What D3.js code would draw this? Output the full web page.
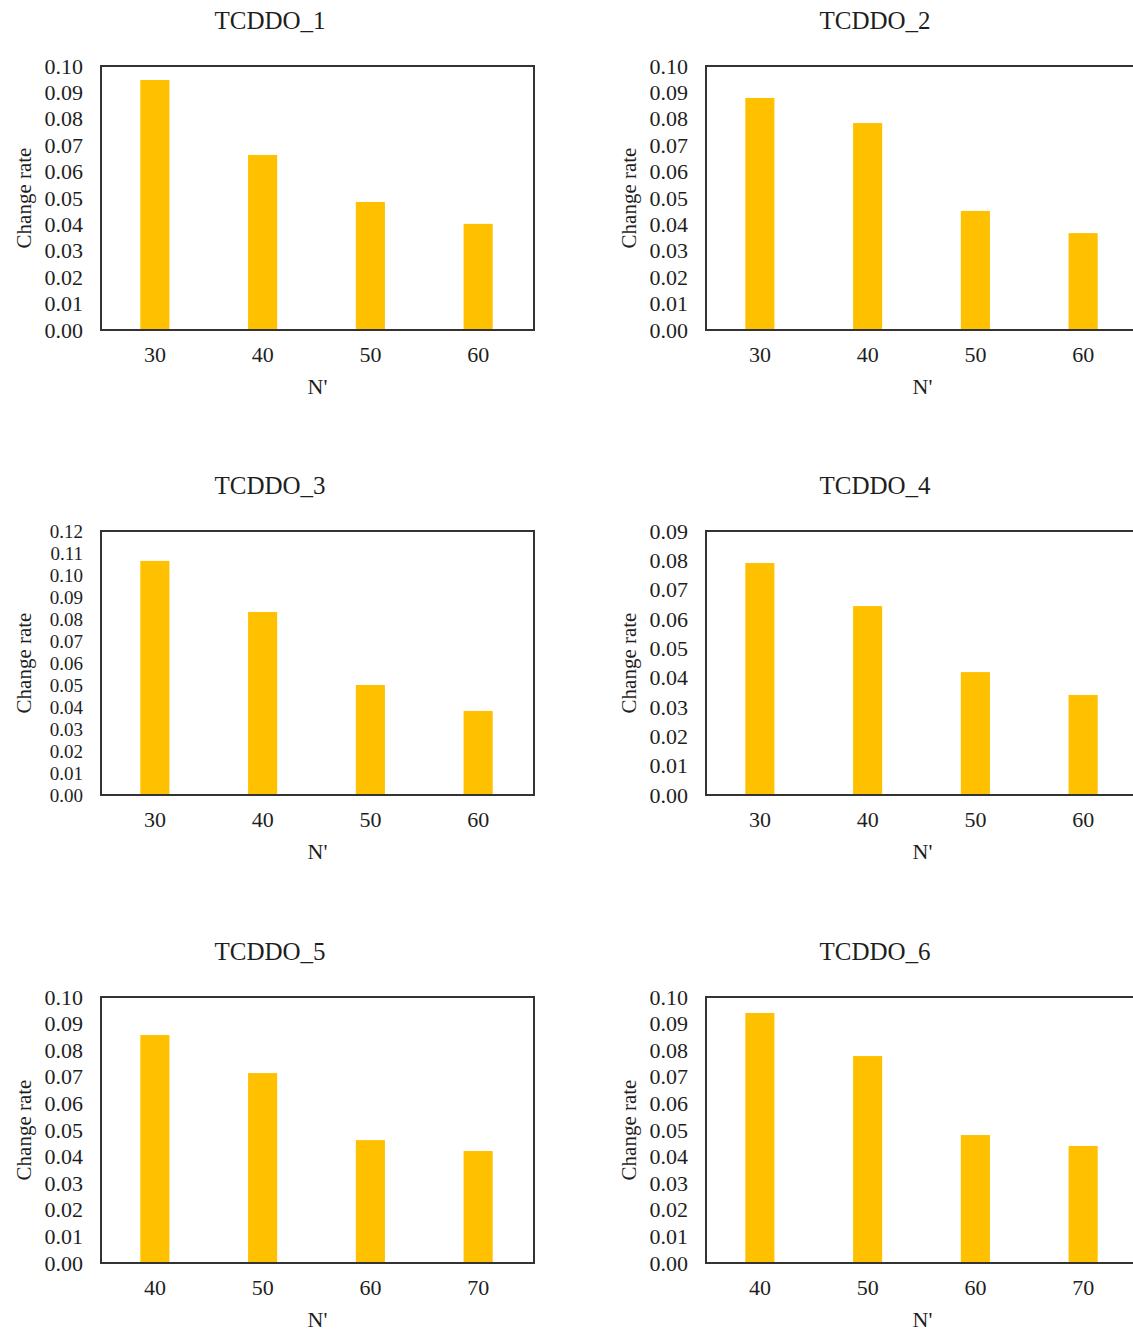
<!DOCTYPE html>
<html>
<head>
<meta charset="utf-8">
<script src="https://cdn.jsdelivr.net/npm/d3@7"></script>
<style>
  html, body { margin: 0; padding: 0; background: #fff; overflow: hidden; }
  svg { display: block; }
  text { font-family: "Liberation Serif", "Times New Roman", serif; fill: #1e1e1e; }
</style>
</head>
<body>
<div id="chart"></div>
<script>
// Panel names, x categories (N') and change-rate values per panel
const titles = ["TCDDO_1", "TCDDO_2", "TCDDO_3", "TCDDO_4", "TCDDO_5", "TCDDO_6"];
const categories = [
  ["30", "40", "50", "60"],
  ["30", "40", "50", "60"],
  ["30", "40", "50", "60"],
  ["30", "40", "50", "60"],
  ["40", "50", "60", "70"],
  ["40", "50", "60", "70"]
];
const tcddo1 = [0.0947, 0.0663, 0.0485, 0.0402];
const tcddo2 = [0.0879, 0.0784, 0.0451, 0.0367];
const tcddo3 = [0.1064, 0.0832, 0.0500, 0.0382];
const tcddo4 = [0.0791, 0.0644, 0.0419, 0.0341];
const tcddo5 = [0.0857, 0.0714, 0.0462, 0.0421];
const tcddo6 = [0.0940, 0.0778, 0.0481, 0.0440];
const values = [tcddo1, tcddo2, tcddo3, tcddo4, tcddo5, tcddo6];
// Upper end of each y axis (ticks every 0.01)
const yMax = [0.10, 0.10, 0.12, 0.09, 0.10, 0.10];
const yLabel = "Change rate";
const xLabel = "N'";

const W = 1133, H = 1331;
const svg = d3.select("#chart").append("svg").attr("width", W).attr("height", H);

// Plot frames: two columns, three rows
const colX = [101, 706];
const rowY = [66, 531, 997];
const rowH = [264, 264, 266];
const plotW = 433;

titles.forEach((title, i) => {
  const col = i % 2, row = Math.floor(i / 2);
  const x0 = colX[col], y0 = rowY[row], h = rowH[row];
  const g = svg.append("g").attr("transform", `translate(${x0},${y0})`);

  const x = d3.scaleBand()
    .domain(categories[i])
    .range([0, plotW - 2])
    .paddingInner(0.73)
    .paddingOuter(0.365);
  const y = d3.scaleLinear().domain([0, yMax[i]]).range([h, 0]);

  // bars
  g.selectAll("rect.bar")
    .data(values[i])
    .join("rect")
    .attr("class", "bar")
    .attr("x", (d, k) => x(categories[i][k]))
    .attr("width", x.bandwidth())
    .attr("y", d => y(d))
    .attr("height", d => h - y(d))
    .attr("fill", "#FFC000");

  // frame
  g.append("rect")
    .attr("x", 0).attr("y", 0)
    .attr("width", plotW).attr("height", h)
    .attr("fill", "none")
    .attr("stroke", "#333")
    .attr("stroke-width", 2);

  // y axis; label size limited by the tick spacing so labels stay apart
  const yTicks = d3.range(0, Math.round(yMax[i] * 100) + 1).map(v => v / 100);
  const tickGap = h / (yTicks.length - 1);
  const yFont = Math.min(22, Math.floor(tickGap / 1.15));
  const yAxis = g.append("g")
    .call(d3.axisLeft(y).tickValues(yTicks).tickFormat(d3.format(".2f")).tickSize(0).tickPadding(18));
  yAxis.select(".domain").remove();
  yAxis.selectAll("text").attr("font-size", yFont).style("font-family", "'Liberation Serif', serif").attr("fill", "#1e1e1e");

  // x axis
  const xAxis = g.append("g")
    .attr("transform", `translate(0,${h})`)
    .call(d3.axisBottom(x).tickSize(0).tickPadding(16));
  xAxis.select(".domain").remove();
  xAxis.selectAll("text").attr("font-size", 22).style("font-family", "'Liberation Serif', serif").attr("fill", "#1e1e1e");

  // title
  g.append("text")
    .attr("x", 169).attr("y", -37)
    .attr("text-anchor", "middle")
    .attr("font-size", 25)
    .text(title);

  // axis titles
  g.append("text")
    .attr("transform", `translate(-70,${h / 2}) rotate(-90)`)
    .attr("text-anchor", "middle")
    .attr("font-size", 21)
    .text(yLabel);
  g.append("text")
    .attr("x", plotW / 2).attr("y", h + 64)
    .attr("text-anchor", "middle")
    .attr("font-size", 22)
    .text(xLabel);
});
</script>
</body>
</html>
